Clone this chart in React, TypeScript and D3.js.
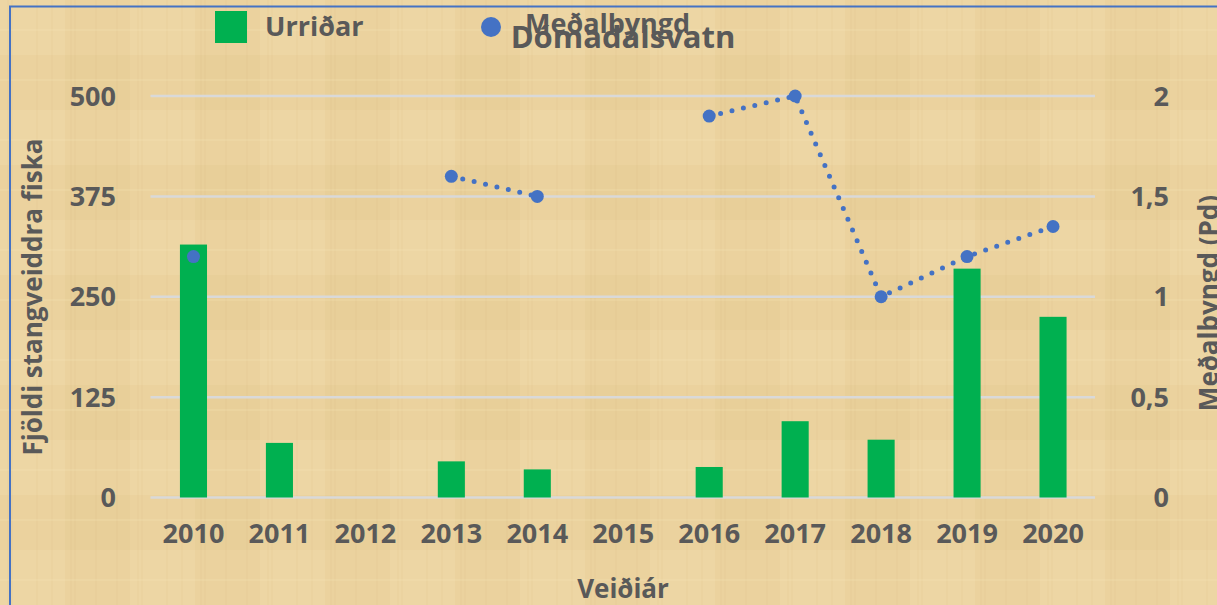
import React from "react";
import * as d3 from "d3";

const years = ["2010", "2011", "2012", "2013", "2014", "2015", "2016", "2017", "2018", "2019", "2020"];
const urridar: (number | null)[] = [315, 68, null, 45, 35, null, 38, 95, 72, 285, 225];
const medalthyngd: (number | null)[] = [1.2, null, null, 1.6, 1.5, null, 1.9, 2.0, 1.0, 1.2, 1.35];
const leftTicks = [0, 125, 250, 375, 500];
const rightTicks = [0, 0.5, 1, 1.5, 2];
const rightTickLabels = ["0", "0,5", "1", "1,5", "2"];

const W = 1217;
const H = 605;
const FONT = "'Open Sans', 'Noto Sans', sans-serif";
const TXT = "#595959";
const GREEN = "#00b050";
const BLUE = "#4472c4";

export default function App() {
  const x = d3.scaleBand<string>().domain(years).range([150.5, 1096]).padding(0);
  const yL = d3.scaleLinear().domain([0, 500]).range([497.5, 96]);
  const yR = d3.scaleLinear().domain([0, 2]).range([497.5, 96]);
  const bw = x.bandwidth() * 0.315;
  const cx = (y: string) => (x(y) as number) + x.bandwidth() / 2;

  const pts = years.map((y, i) => ({ y, v: medalthyngd[i] }));
  const line = d3
    .line<{ y: string; v: number | null }>()
    .defined((d) => d.v != null)
    .x((d) => cx(d.y))
    .y((d) => yR(d.v as number));

  return (
    <svg
      width={W}
      height={H}
      style={{ position: "absolute", left: 0, top: 0, display: "block" }}
      fontFamily={FONT}
    >
      <defs>
        <pattern id="pap" width="130" height="110" patternUnits="userSpaceOnUse">
          <rect width="130" height="110" fill="#ebd29e" />
          <rect x="0" y="0" width="65" height="55" fill="#eed8a8" opacity="0.6" />
          <rect x="65" y="55" width="65" height="55" fill="#e6cb93" opacity="0.5" />
          <g stroke="#cfae72" strokeWidth="1" opacity="0.18">
            <line x1="8" y1="0" x2="8" y2="110" />
            <line x1="12" y1="0" x2="12" y2="110" />
            <line x1="37" y1="0" x2="37" y2="110" />
            <line x1="52" y1="0" x2="52" y2="110" />
            <line x1="71" y1="0" x2="71" y2="110" />
            <line x1="75" y1="0" x2="75" y2="110" />
            <line x1="96" y1="0" x2="96" y2="110" />
            <line x1="117" y1="0" x2="117" y2="110" />
          </g>
          <g stroke="#f3e2b6" strokeWidth="2" opacity="0.2">
            <line x1="0" y1="30" x2="130" y2="30" />
            <line x1="0" y1="80" x2="130" y2="80" />
          </g>
        </pattern>
      </defs>
      <rect x={0} y={0} width={W} height={H} fill="url(#pap)" />
      <rect x={10} y={6.5} width={1400} height={800} fill="none" stroke={BLUE} strokeWidth={2} />

      {/* gridlines */}
      {leftTicks.map((t) => (
        <line key={t} x1={150.5} x2={1095} y1={yL(t)} y2={yL(t)} stroke="#d9d9d9" strokeWidth={2.5} />
      ))}

      {/* bars */}
      {years.map((y, i) =>
        urridar[i] == null ? null : (
          <rect
            key={y}
            x={cx(y) - bw / 2}
            y={yL(urridar[i] as number)}
            width={bw}
            height={yL(0) - yL(urridar[i] as number)}
            fill={GREEN}
          />
        )
      )}

      {/* line */}
      <path
        d={line(pts) || ""}
        fill="none"
        stroke={BLUE}
        strokeWidth={5}
        strokeDasharray="0 11.7"
        strokeLinecap="round"
      />
      {pts.map((p) =>
        p.v == null ? null : <circle key={p.y} cx={cx(p.y)} cy={yR(p.v)} r={6.5} fill={BLUE} />
      )}

      {/* left ticks */}
      {leftTicks.map((t) => (
        <text key={t} x={116} y={yL(t)} dy="0.36em" textAnchor="end" fontSize={27} fontWeight="bold" fill={TXT}>
          {t}
        </text>
      ))}
      {/* right ticks */}
      {rightTicks.map((t, i) => (
        <text key={t} x={1169} y={yR(t)} dy="0.36em" textAnchor="end" fontSize={27} fontWeight="bold" fill={TXT}>
          {rightTickLabels[i]}
        </text>
      ))}
      {/* x ticks */}
      {years.map((y) => (
        <text key={y} x={cx(y)} y={543} textAnchor="middle" fontSize={27} fontWeight="bold" fill={TXT}>
          {y}
        </text>
      ))}

      {/* axis titles */}
      <text x={623} y={598} textAnchor="middle" fontSize={26} fontWeight="bold" fill={TXT}>
        Veiðiár
      </text>
      <text
        transform="translate(42,297) rotate(-90)"
        textAnchor="middle"
        fontSize={26}
        fontWeight="bold"
        fill={TXT}
      >
        Fjöldi stangveiddra fiska
      </text>
      <text
        transform="translate(1218,303) rotate(-90)"
        textAnchor="middle"
        fontSize={26}
        fontWeight="bold"
        fill={TXT}
      >
        Meðalbyngd (Pd)
      </text>

      {/* legend */}
      <rect x={215} y={11} width={32} height={32} fill={GREEN} />
      <text x={265} y={36} fontSize={27} fontWeight="bold" fill={TXT}>
        Urriðar
      </text>
      <circle cx={491} cy={27} r={10} fill={BLUE} />
      <text x={525} y={33} fontSize={27} fontWeight="bold" fill={TXT}>
        Meðalbyngd
      </text>

      {/* title */}
      <text x={623} y={48} textAnchor="middle" fontSize={31} fontWeight="bold" fill={TXT}>
        Dómadalsvatn
      </text>
    </svg>
  );
}
